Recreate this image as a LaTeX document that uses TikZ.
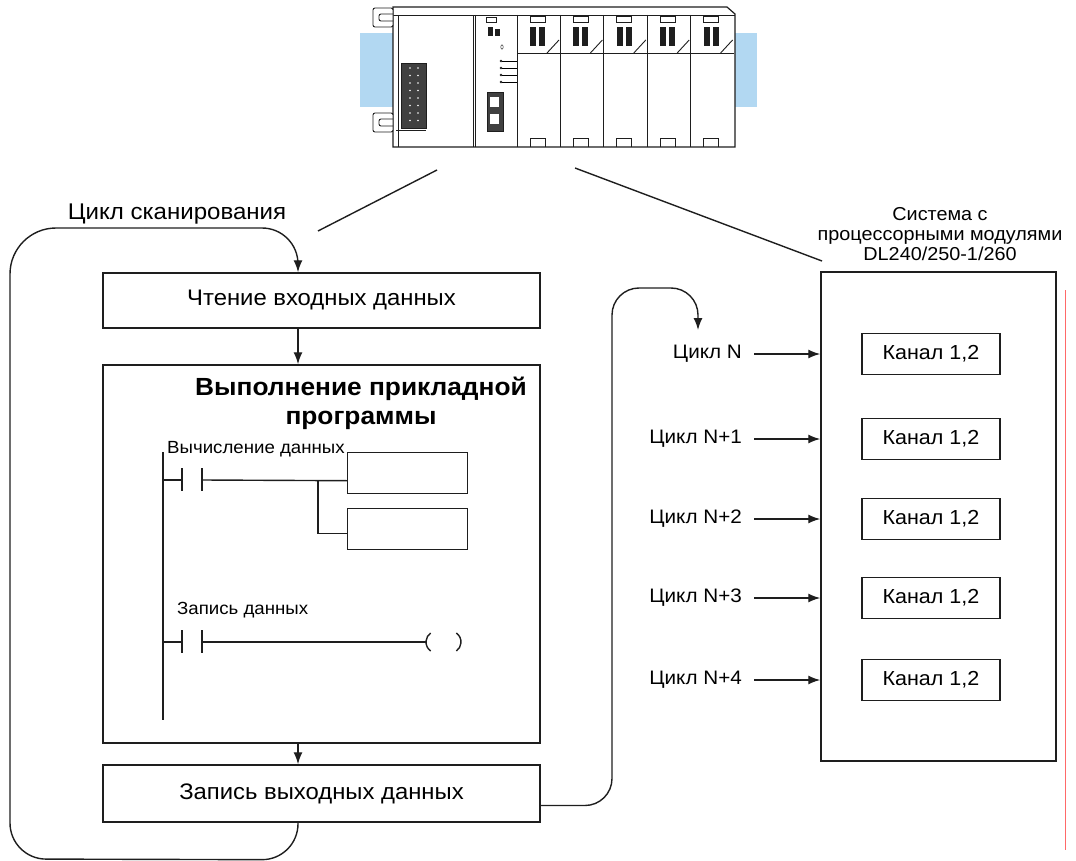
\documentclass[tikz,border=0pt]{standalone}
\usepackage{fontspec}
\setmainfont{Liberation Sans}[FakeStretch=1.06]
\usetikzlibrary{arrows.meta,positioning,calc}

\definecolor{ink}{RGB}{30,30,30}
\definecolor{railblue}{RGB}{178,216,242}

\tikzset{
  box/.style={draw=ink,line width=1.5pt,minimum width=437pt,inner sep=0pt,font=\fontsize{22.5}{26}\selectfont},
  arr/.style={draw=ink,line width=1.4pt,-{Latex[length=12pt,width=9pt]}},
  chan/.style={draw=ink,line width=1.4pt,minimum width=138pt,minimum height=41pt,inner sep=0pt,font=\fontsize{20.3}{24}\selectfont},
  cyc/.style={anchor=east,inner sep=0pt,font=\fontsize{19.5}{24}\selectfont},
  rung/.style={draw=ink,line width=1.4pt},
  plc/.style={draw=ink,line width=0.9pt},
  small/.style={inner sep=0pt,font=\fontsize{17.6}{20}\selectfont}
}

\begin{document}
\begin{tikzpicture}[x=1pt,y=-1pt]
\useasboundingbox (0,0) rectangle (1076,861);

% PLC rack
\fill[railblue] (360,33) rectangle (394,107);
\fill[railblue] (733,33) rectangle (757,107);
\draw[plc,line width=1.2pt,fill=white] (393,7) -- (727,7) -- (735,14) -- (735,147) -- (393,147) -- cycle;
\draw[plc] (393,15) -- (735,15);
\foreach \y in {8,113}{
  \draw[plc,fill=white,rounded corners=2pt] (373,\y) rectangle (393,\y+19);
  \draw[plc,rounded corners=2pt] (393,\y+6) -- (379,\y+6) -- (379,\y+13) -- (393,\y+13);
}
% power supply
\draw[plc] (398,15) -- (398,147);
\draw[plc] (473,15) -- (473,147);
\draw[plc] (475,15) -- (475,147);
\draw[plc,fill=black!75] (401,63) rectangle (426,128);
\draw[plc] (396,130) -- (426,130);
\foreach \a in {0,...,7}{
  \fill[white] (410,68+7.5*\a) circle (0.9);
  \fill[white] (418,68+7.5*\a) circle (0.9);
}
% CPU
\draw[plc] (486,17) rectangle (496,22);
\fill[ink] (488,27) rectangle (493,36);
\fill[ink] (495,29) rectangle (500,36);
\draw[thin] (502,47) ellipse (1.2 and 2.2);
\foreach \y in {61,68,75,82}{
  \fill[ink] (501,\y) circle (1.4);
  \draw[thin] (502,\y) -- (517,\y);
}
\draw[plc,fill=black!75] (487,92) rectangle (503,131);
\fill[white] (490,97) rectangle (499,107);
\fill[white] (490,114) rectangle (499,124);
% I/O modules
\foreach \i in {0,...,4}{
  \pgfmathsetmacro\l{517+43.4*\i}
  \draw[plc] (\l,15) -- (\l,147);
  \draw[plc] (\l,53) -- (\l+43,53);
  \draw[plc] (\l+13,16) rectangle (\l+28,22);
  \fill[ink] (\l+13,27) rectangle (\l+19,46);
  \fill[ink] (\l+22,27) rectangle (\l+28,46);
  \draw[plc] (\l+30,53) -- (\l+42,40);
  \draw[plc] (\l+13,147) -- (\l+13,138) -- (\l+28,138) -- (\l+28,147);
}

% pointers from the rack
\coordinate (plcA) at (437,170);
\coordinate (plcB) at (575,168);
\coordinate (loopA) at (318,231);
\coordinate (sysA) at (822,261);
\draw[ink,line width=1.4pt] (plcA) -- (loopA);
\draw[ink,line width=1.4pt] (plcB) -- (sysA);

% scan cycle
\coordinate (scan) at (298,228);
\node[inner sep=0pt,font=\fontsize{22.7}{26}\selectfont] (scanlbl) at (177,214) {Цикл сканирования};
\node[box,minimum height=55pt] (read) at (321.5,300.5) {Чтение входных данных};
\node[box,minimum height=378pt] (prog) at (321.5,554) {};
\node[box,minimum height=57pt] (write) at (321.5,793.5) {Запись выходных данных};
\node[inner sep=0pt,align=center,font=\bfseries\fontsize{24.8}{29}\selectfont] (title) at (361,403)
  {Выполнение прикладной\\программы};

\draw[arr] (read.south -| scan) -- (prog.north -| scan);
\draw[arr] (prog.south -| scan) -- (write.north -| scan);
\draw[arr,rounded corners=36pt] (write.south -| scan) -- ++(0,37) -- (10,859)
  [rounded corners=46pt] -- (10,228) [rounded corners=36pt] -- (scan) -- (read.north -| scan);

% ladder
\draw[rung] (163,452) -- (163,720);
\foreach \y in {480,642}{
  \draw[rung] (163,\y) -- (182,\y);
  \draw[rung] (182,\y-12) -- (182,\y+11);
  \draw[rung] (202,\y-12) -- (202,\y+11);
}
\node[draw=ink,line width=1.4pt,minimum width=120pt,minimum height=41pt,anchor=north west] (fb1) at (347,452) {};
\node[draw=ink,line width=1.4pt,minimum width=120pt,minimum height=41pt,anchor=north west] (fb2) at (347,508) {};
\draw[rung] (202,480) -- ([yshift=-7.5pt]fb1.west);
\draw[rung] (318,480) |- ([yshift=-4.5pt]fb2.west);
\node[small,anchor=south west] (calc) at (167,457) {Вычисление данных};
\node[small,anchor=west] (store) at (177,610) {Запись данных};
\coordinate (coil) at (443,642);
\draw[rung] (202,642) -- ([xshift=-17pt]coil);
\draw[rung] ([xshift=-6pt]coil) ++(125:11) arc (125:235:11);
\draw[rung] ([xshift=7pt]coil) ++(-55:11) arc (-55:55:11);

% system with the CPU modules
\node[draw=ink,line width=1.5pt,minimum width=235pt,minimum height=489pt,inner sep=0pt] (sys) at (938.5,516.5) {};
\node[inner sep=0pt,align=center,anchor=south,font=\fontsize{18.7}{20}\selectfont] (syslbl) at (940,261)
  {Система с\\процессорными модулями\\DL240/250-1/260};
\foreach \i/\y/\t in {1/354/{Цикл N},2/439/{Цикл N+1},3/519/{Цикл N+2},4/598/{Цикл N+3},5/680/{Цикл N+4}}{
  \node[chan] (ch\i) at (931,\y) {Канал 1,2};
  \node[cyc] (cy\i) at (742,\y) {\t};
  \draw[arr] ([xshift=12pt]cy\i.east) -- (cy\i.east -| sys.west);
}

% output scan goes on to the next cycle
\coordinate (rtop) at (612,288);
\coordinate (tick) at (698,330);
\draw[arr,rounded corners=27pt] ([yshift=-12pt]write.east) -- ([yshift=-12pt]write.east -| rtop)
  -- (rtop) -- (tick |- rtop) -- (tick);

\draw[red!45!pink,line width=0.9pt] (1065,290) -- (1065,850);
\end{tikzpicture}
\end{document}
